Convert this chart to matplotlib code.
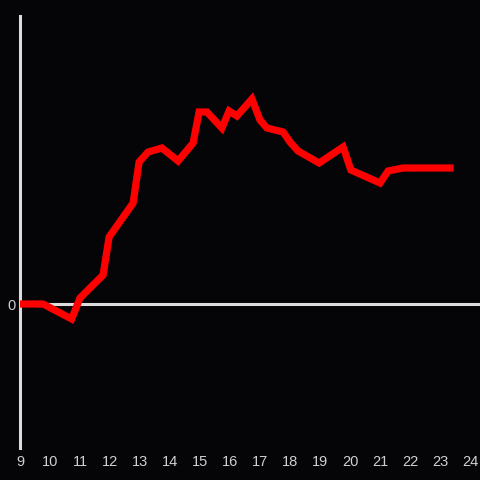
import matplotlib
matplotlib.use("Agg")
import matplotlib.pyplot as plt

hours = [9.0, 9.77, 10.72, 11.0, 11.77, 11.97, 12.77, 12.97, 13.27, 13.73, 14.27,
         14.77, 14.97, 15.23, 15.73, 15.97, 16.23, 16.73, 17.0, 17.23, 17.77, 18.0,
         18.27, 18.97, 19.77, 20.03, 21.0, 21.27, 21.77, 23.33]
values = [0, 0, -15, 6, 29, 67, 101, 142, 152, 156, 143,
          161, 192, 192, 176, 193, 188, 205, 184, 176, 172, 162,
          153, 141, 157, 134, 121, 133, 136, 136]
xticks = list(range(9, 25))

bg = "#050407"
fg = "#dcdcdc"
fig = plt.figure(figsize=(4.8, 4.8), dpi=100, facecolor=bg)
ax = fig.add_axes([20/480, 32/480, 460/480, 432/480], facecolor=bg)
ax.plot(hours, values, color="#ff0000", lw=5.2, solid_joinstyle="miter", zorder=3)
ax.axhline(0, color=fg, lw=2.2, zorder=2)
ax.set_xlim(9, 9 + 460/30)
ax.set_ylim(-144, 288)
for s in ["top", "right", "bottom"]:
    ax.spines[s].set_visible(False)
ax.spines["left"].set_color(fg)
ax.spines["left"].set_linewidth(2.2)
ax.set_xticks(xticks)
ax.set_xticklabels([str(t) for t in xticks])
ax.set_yticks([0])
ax.set_yticklabels(["0"])
ax.tick_params(axis="both", length=0, colors="#d0d0d0", labelsize=10.5)
ax.tick_params(axis="x", pad=5)
ax.tick_params(axis="y", pad=3)
for lab in ax.get_xticklabels() + ax.get_yticklabels():
    lab.set_family("Liberation Sans")
fig.savefig("out.png", facecolor=bg)
